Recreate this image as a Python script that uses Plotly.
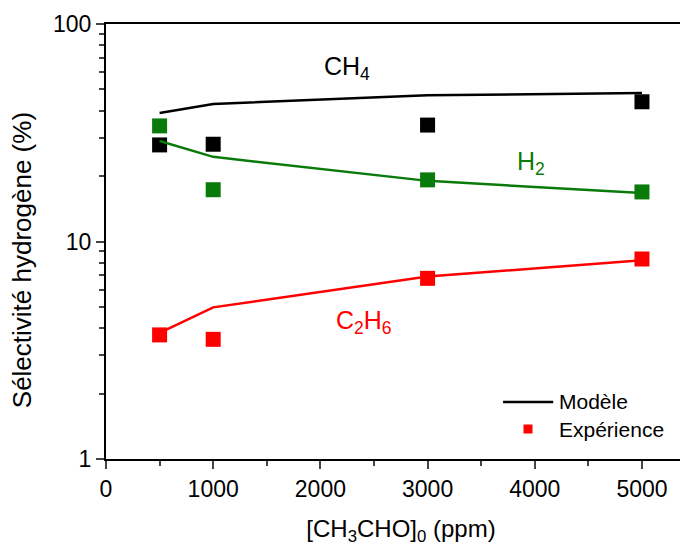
import plotly.graph_objects as go

# concentration d'acétaldéhyde (ppm)
conc = [500, 1000, 3000, 5000]

# modèle
ch4_model = [39.0, 42.9, 47.0, 48.2]
h2_model = [29.0, 24.5, 19.0, 16.7]
c2h6_model = [3.8, 4.98, 6.9, 8.2]

# expérience
ch4_exp = [27.8, 28.0, 34.3, 43.9]
h2_exp = [34.0, 17.3, 19.2, 16.9]
c2h6_exp = [3.72, 3.55, 6.77, 8.31]

x_ticks = [0, 1000, 2000, 3000, 4000, 5000]
y_ticks = [1, 10, 100]
y_minor = [2, 3, 4, 5, 6, 7, 8, 9, 20, 30, 40, 50, 60, 70, 80, 90]

BLACK = "#000000"
GREEN = "#0a7a0a"
RED = "#ff0000"
FONT = "Liberation Sans, Arial, sans-serif"

fig = go.Figure()

for y_mod, y_exp, col in [
    (ch4_model, ch4_exp, BLACK),
    (h2_model, h2_exp, GREEN),
    (c2h6_model, c2h6_exp, RED),
]:
    fig.add_trace(go.Scatter(x=conc, y=y_mod, mode="lines",
                             line=dict(color=col, width=2.5), showlegend=False))
    fig.add_trace(go.Scatter(x=conc, y=y_exp, mode="markers",
                             marker=dict(symbol="square", size=15, color=col),
                             showlegend=False))

# series labels
fig.add_annotation(x=2250, y=1.80, text="CH<sub>4</sub>", showarrow=False,
                   font=dict(size=25, color=BLACK, family=FONT))
fig.add_annotation(x=3965, y=1.36, text="H<sub>2</sub>", showarrow=False,
                   font=dict(size=25, color=GREEN, family=FONT))
fig.add_annotation(x=2410, y=0.63, text="C<sub>2</sub>H<sub>6</sub>", showarrow=False,
                   font=dict(size=25, color=RED, family=FONT))

# legend, drawn by hand
fig.add_shape(type="line", xref="paper", yref="paper", x0=0.673, x1=0.758,
              y0=0.131, y1=0.131, line=dict(color=BLACK, width=2.5))
fig.add_shape(type="rect", xref="paper", yref="paper", x0=0.7076, x1=0.7229,
              y0=0.0586, y1=0.0793, fillcolor=RED, line=dict(width=0))
fig.add_annotation(xref="paper", yref="paper", x=0.7644, y=0.102, xanchor="left",
                   text="Modèle", showarrow=False, font=dict(size=21))
fig.add_annotation(xref="paper", yref="paper", x=0.7644, y=0.037, xanchor="left",
                   text="Expérience", showarrow=False, font=dict(size=21))

# y axis title, placed by hand (sits a bit below the plot centre)
fig.add_annotation(xref="paper", yref="paper", x=-0.142, y=0.4575, textangle=-90,
                   xanchor="center", yanchor="middle",
                   text="Sélectivité hydrogène (%)", showarrow=False,
                   font=dict(size=26))

fig.update_layout(
    width=688, height=547,
    margin=dict(l=98, r=0, t=16, b=96),
    plot_bgcolor="white", paper_bgcolor="white",
    font=dict(family=FONT, size=23, color="black"),
    showlegend=False,
)

fig.update_xaxes(
    range=[0, 5504], tickvals=x_ticks,
    ticks="outside", ticklen=8, tickwidth=1.5, showline=True, linecolor="black",
    linewidth=2, mirror=True, showgrid=False, zeroline=False,
    minor=dict(dtick=500, ticks="outside", ticklen=5, tickwidth=1.5, showgrid=False),
    title=dict(text="[CH<sub>3</sub>CHO]<sub>0</sub> (ppm)", standoff=20,
               font=dict(size=24)),
)
fig.update_yaxes(
    type="log", range=[0, 2], tickvals=y_ticks, ticktext=[str(v) for v in y_ticks],
    ticks="outside", ticklen=8, tickwidth=1.5, showline=True, linecolor="black",
    linewidth=2, showgrid=False, zeroline=False,
    minor=dict(tickvals=y_minor, ticks="outside", ticklen=5, tickwidth=1.5,
               showgrid=False),
)

fig.write_html("out.html")
